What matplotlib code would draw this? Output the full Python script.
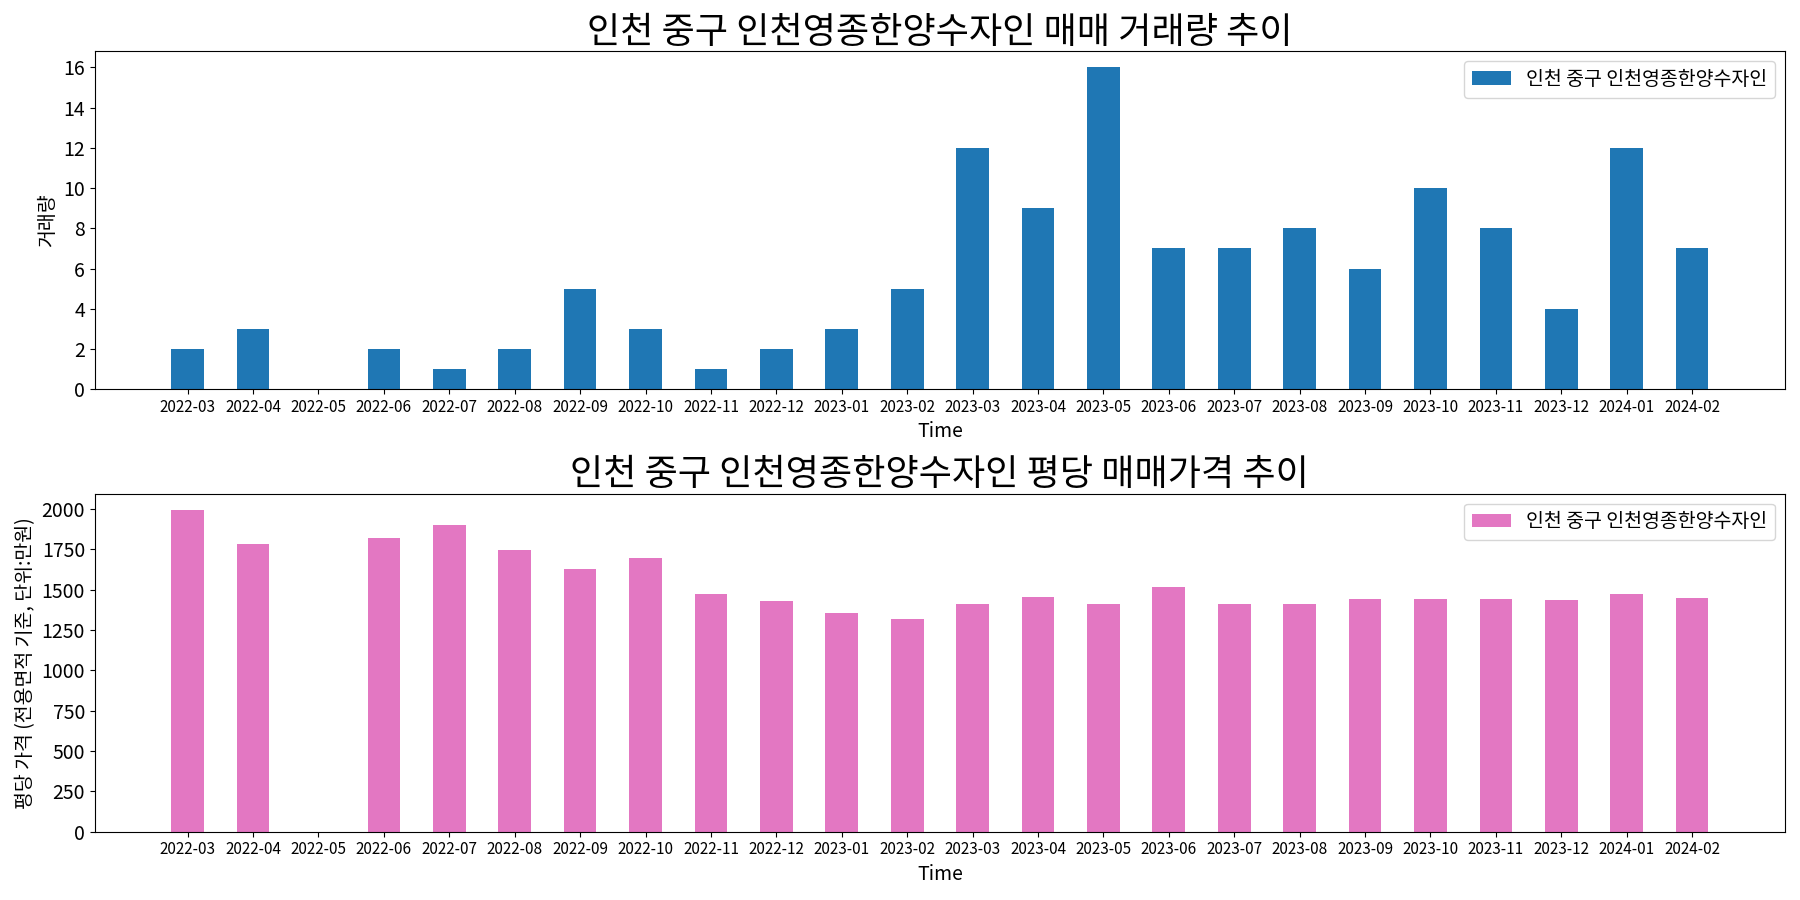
import matplotlib
matplotlib.use("Agg")
import matplotlib.pyplot as plt
import numpy as np

plt.rcParams['font.family'] = ['Noto Sans CJK KR', 'DejaVu Sans']
plt.rcParams['axes.unicode_minus'] = False

months = ['2022-03', '2022-04', '2022-05', '2022-06', '2022-07', '2022-08', '2022-09',
          '2022-10', '2022-11', '2022-12', '2023-01', '2023-02', '2023-03', '2023-04',
          '2023-05', '2023-06', '2023-07', '2023-08', '2023-09', '2023-10', '2023-11',
          '2023-12', '2024-01', '2024-02']
volume = [2, 3, 0, 2, 1, 2, 5, 3, 1, 2, 3, 5, 12, 9, 16, 7, 7, 8, 6, 10, 8, 4, 12, 7]
price = [1994, 1785, 0, 1820, 1903, 1746, 1631, 1697, 1474, 1430, 1356, 1319, 1412, 1455,
         1412, 1517, 1412, 1412, 1443, 1443, 1443, 1437, 1474, 1449]
name = '인천 중구 인천영종한양수자인'
vol_ticks = [0, 2, 4, 6, 8, 10, 12, 14, 16]
price_ticks = [0, 250, 500, 750, 1000, 1250, 1500, 1750, 2000]

fig, (ax1, ax2) = plt.subplots(2, 1, figsize=(18, 9), dpi=100)
x = np.arange(len(months))

ax1.bar(x, volume, width=0.5, color='#1f77b4', label=name)
ax1.set_title(f'{name} 매매 거래량 추이', fontsize=26)
ax1.set_ylabel('거래량', fontsize=14)
ax1.set_xlabel('Time', fontsize=14)
ax1.set_xticks(x)
ax1.set_xticklabels(months, fontsize=11)
ax1.set_yticks(vol_ticks)
ax1.tick_params(axis='y', labelsize=14)
ax1.set_xlim(-1.42, len(months) - 1 + 1.42)
ax1.set_ylim(0, max(volume) * 1.05)
ax1.legend(fontsize=14, loc='upper right')

ax2.bar(x, price, width=0.5, color='#e377c2', label=name)
ax2.set_title(f'{name} 평당 매매가격 추이', fontsize=26)
ax2.set_ylabel('평당 가격 (전용면적 기준, 단위:만원)', fontsize=14)
ax2.set_xlabel('Time', fontsize=14)
ax2.set_xticks(x)
ax2.set_xticklabels(months, fontsize=11)
ax2.set_yticks(price_ticks)
ax2.tick_params(axis='y', labelsize=14)
ax2.set_xlim(-1.42, len(months) - 1 + 1.42)
ax2.set_ylim(0, max(price) * 1.05)
ax2.legend(fontsize=14, loc='upper right')

plt.tight_layout()
plt.savefig('out.png')
